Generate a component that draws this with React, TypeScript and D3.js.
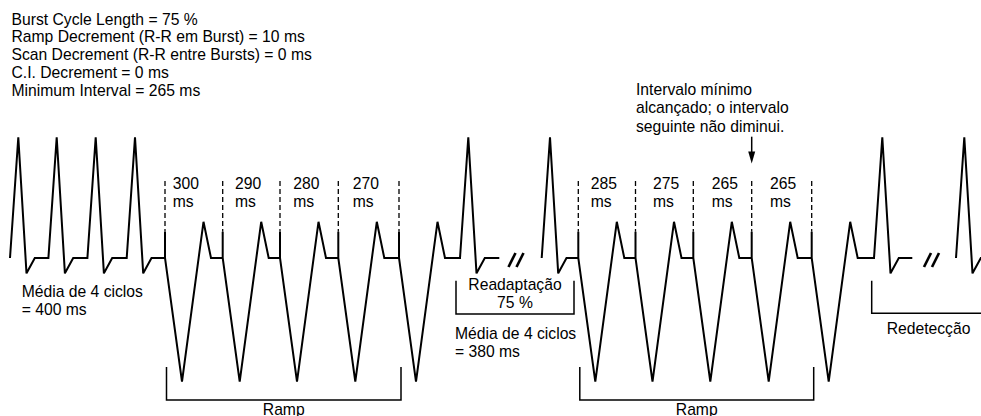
import React from "react";
import * as d3 from "d3";

const W = 981;
const H = 416;

// ---- text content ----
const settingsLines = [
  "Burst Cycle Length = 75 %",
  "Ramp Decrement (R-R em Burst) = 10 ms",
  "Scan Decrement (R-R entre Bursts) = 0 ms",
  "C.I. Decrement = 0 ms",
  "Minimum Interval = 265 ms",
];
const noteLines = ["Intervalo mínimo", "alcançado; o intervalo", "seguinte não diminui."];
const avg1Lines = ["Média de 4 ciclos", "= 400 ms"];
const avg2Lines = ["Média de 4 ciclos", "= 380 ms"];
const readaptLines = ["Readaptação", "75 %"];
const redetectLabel = "Redetecção";
const rampLabel = "Ramp";

// ---- timeline (diagram time units) ----
const intrinsicBefore = [18.3, 56.7, 95.7, 135];
const ramp1Spikes = [165, 222.7, 280, 338.3, 399];
const ramp1Intervals = ["300", "290", "280", "270"];
const afterRamp1 = [468.3];
const resumeBeats = [550];
const ramp2Spikes = [578.3, 635.5, 693.3, 751.7, 811.7];
const ramp2Intervals = ["285", "275", "265", "265"];
const afterRamp2 = [882.3];
const redetectBeats = [964.3];
const breakMarks = [516, 931.5];
const segments = [
  [10, 499.3],
  [541.7, 912.3],
  [956, 995],
];

// ---- amplitudes (relative to R wave) ----
const rPeak = 1;
const sTrough = -0.127;
const pacedPeak = 0.3;
const pacedTrough = -1.025;
const spikeAmp = 0.218;

// layout
const ramp1LabelDx = [7.7, 12.3, 13.3, 14.4];
const ramp2LabelDx = [12.4, 17.5, 18.4, 18.3];

const FONT = "'Liberation Sans', Arial, Helvetica, sans-serif";
const FS = 15.7;

export default function App() {
  const x = d3.scaleLinear().domain([0, W]).range([0, W]);
  const y = d3.scaleLinear().domain([0, 1]).range([258, 137.3]);

  type Ev = { t: number; kind: "i" | "p" };
  const events: Ev[] = [
    ...intrinsicBefore.map((t) => ({ t, kind: "i" as const })),
    ...ramp1Spikes.map((t) => ({ t, kind: "p" as const })),
    ...afterRamp1.map((t) => ({ t, kind: "i" as const })),
    ...resumeBeats.map((t) => ({ t, kind: "i" as const })),
    ...ramp2Spikes.map((t) => ({ t, kind: "p" as const })),
    ...afterRamp2.map((t) => ({ t, kind: "i" as const })),
    ...redetectBeats.map((t) => ({ t, kind: "i" as const })),
  ].sort((a, b) => a.t - b.t);

  const beatPoints = (e: Ev): [number, number][] =>
    e.kind === "i"
      ? [
          [e.t - 8.3, 0],
          [e.t, rPeak],
          [e.t + 8.2, sTrough],
          [e.t + 16.5, 0],
        ]
      : [
          [e.t, 0],
          [e.t, spikeAmp],
          [e.t, 0],
          [e.t + 17, pacedTrough],
          [e.t + 38.5, pacedPeak],
          [e.t + 46, 0],
        ];

  const line = d3
    .line<[number, number]>()
    .x((d) => x(d[0]))
    .y((d) => y(d[1]));

  const paths = segments.map(([a, b]) => {
    const pts: [number, number][] = [[a, 0]];
    events
      .filter((e) => e.t >= a && e.t <= b)
      .forEach((e) => pts.push(...beatPoints(e)));
    pts.push([b, 0]);
    return line(pts) as string;
  });

  const dashTop = 181;
  const spikeTop = y(spikeAmp);

  const rampGroup = (spikes: number[], labels: string[], dx: number[], key: string) => (
    <g key={key}>
      {spikes.map((s, i) => (
        <line
          key={i}
          x1={x(s)}
          x2={x(s)}
          y1={dashTop}
          y2={spikeTop}
          stroke="#000"
          strokeWidth={1.3}
          strokeDasharray="5,3"
        />
      ))}
      {labels.map((l, i) => (
        <text key={"t" + i} x={x(spikes[i]) + dx[i]} y={188.5} fontSize={FS}>
          <tspan x={x(spikes[i]) + dx[i]}>{l}</tspan>
          <tspan x={x(spikes[i]) + dx[i]} dy={18}>
            ms
          </tspan>
        </text>
      ))}
    </g>
  );

  const rampBracket = (spikes: number[], key: string) => {
    const x1 = x(spikes[0]) + 1.5;
    const x2 = x(spikes[spikes.length - 1]) + 2;
    return (
      <g key={key}>
        <path
          d={`M${x1},367V400H${x2}V367`}
          fill="none"
          stroke="#000"
          strokeWidth={1.5}
        />
        <text x={(x1 + x2) / 2} y={414.5} fontSize={FS} textAnchor="middle">
          {rampLabel}
        </text>
      </g>
    );
  };

  const slash = (cx: number, key: string) => (
    <g key={key} stroke="#000" strokeWidth={2.6} strokeLinecap="butt">
      <line x1={x(cx) - 7.5} y1={267} x2={x(cx) - 0.5} y2={253} />
      <line x1={x(cx) + 0.5} y1={267} x2={x(cx) + 7.5} y2={253} />
    </g>
  );

  return (
    <svg
      width={W}
      height={H}
      style={{ position: "absolute", left: 0, top: 0, background: "#fff" }}
      fontFamily={FONT}
    >
      <rect width={W} height={H} fill="#fff" />
      {/* settings text */}
      <text fontSize={FS} fill="#000">
        {settingsLines.map((s, i) => (
          <tspan key={i} x={11.5} y={24.5 + i * 17.9}>
            {s}
          </tspan>
        ))}
      </text>
      {/* note */}
      <text fontSize={FS} fill="#000">
        {noteLines.map((s, i) => (
          <tspan key={i} x={636} y={94.5 + i * 18.5}>
            {s}
          </tspan>
        ))}
      </text>
      {/* arrow */}
      <line x1={x(751.7)} x2={x(751.7)} y1={136.7} y2={153} stroke="#000" strokeWidth={1.5} />
      <path d={`M${x(751.7) - 3.5},151.5L${x(751.7) + 3.5},151.5L${x(751.7)},163.5Z`} fill="#000" />

      {rampGroup(ramp1Spikes, ramp1Intervals, ramp1LabelDx, "r1")}
      {rampGroup(ramp2Spikes, ramp2Intervals, ramp2LabelDx, "r2")}

      {paths.map((d, i) => (
        <path key={i} d={d} fill="none" stroke="#000" strokeWidth={2} strokeLinejoin="miter" strokeMiterlimit={3} />
      ))}
      {breakMarks.map((b, i) => slash(b, "b" + i))}

      {/* average labels */}
      <text fontSize={FS}>
        {avg1Lines.map((s, i) => (
          <tspan key={i} x={21.7} y={297 + i * 18}>
            {s}
          </tspan>
        ))}
      </text>
      <text fontSize={FS}>
        {avg2Lines.map((s, i) => (
          <tspan key={i} x={455} y={338.5 + i * 18.5}>
            {s}
          </tspan>
        ))}
      </text>

      {/* readaptation bracket */}
      <path d="M456,280.7V314H574V280.7" fill="none" stroke="#000" strokeWidth={1.5} />
      <text fontSize={FS} textAnchor="middle">
        {readaptLines.map((s, i) => (
          <tspan key={i} x={515} y={289.5 + i * 18.5}>
            {s}
          </tspan>
        ))}
      </text>

      {/* redetection bracket */}
      <path d="M871.7,280.7V313.3H990" fill="none" stroke="#000" strokeWidth={1.5} />
      <text fontSize={FS} x={886.7} y={334}>
        {redetectLabel}
      </text>

      {rampBracket(ramp1Spikes, "rb1")}
      {rampBracket(ramp2Spikes, "rb2")}
    </svg>
  );
}
